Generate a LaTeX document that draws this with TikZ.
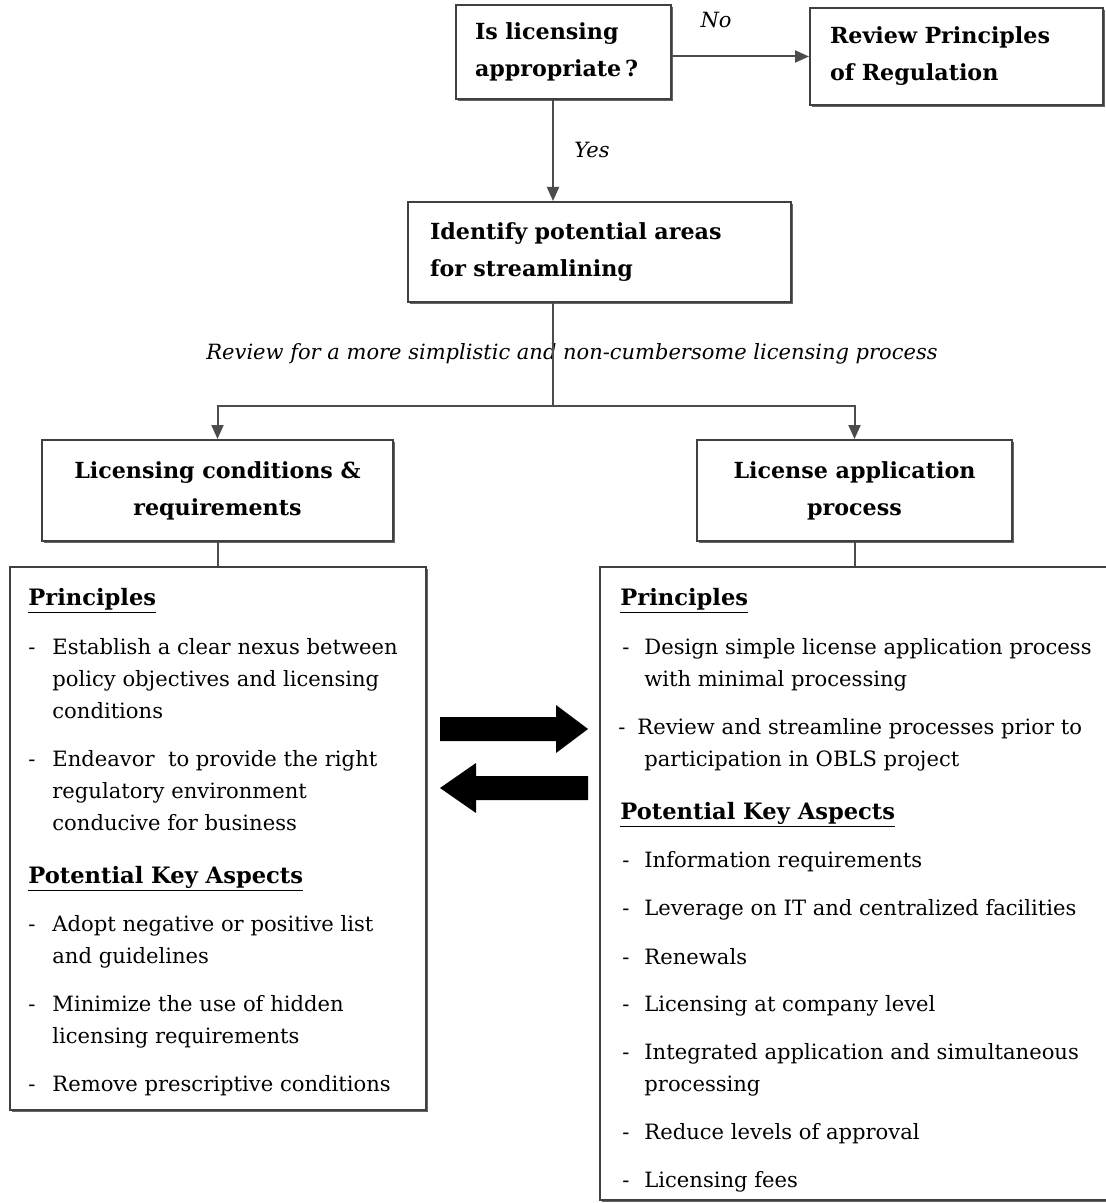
\documentclass[tikz,border=0pt]{standalone}
\usepackage{fontspec}
\setmainfont{DejaVu Serif}
\usetikzlibrary{arrows.meta,shadows}
\begin{document}
\begin{tikzpicture}[x=0.5pt,y=-0.5pt]
\tikzset{
 box/.style={draw=black!75, line width=1pt, fill=white, inner sep=0pt,
   drop shadow={shadow xshift=0.9pt, shadow yshift=-0.9pt, fill=black!60, opacity=1}},
 ttl/.style={font=\fontsize{11.1}{18.5}\selectfont\bfseries},
 conn/.style={draw=black!70, line width=1pt},
 arr/.style={conn, -{Triangle[length=7pt,width=6pt]}},
 txt/.style={anchor=base west, inner sep=0pt, font=\fontsize{10.55}{16}\selectfont},
 hd/.style={anchor=base west, inner sep=0pt, font=\fontsize{11.3}{16}\selectfont\bfseries},
 lbl/.style={inner sep=0pt, font=\fontsize{10.5}{12}\selectfont\itshape},
 blk/.style={fill=black}
}
\fill[white] (0,0) rectangle (1106,1203);
\useasboundingbox (0,0) rectangle (1106,1203);

% top boxes
\node[box, ttl, minimum width=107.5pt, minimum height=47pt, text width=88.5pt, align=left] (b1) at (563.5,52) {Is licensing\\appropriate\,?};
\node[box, ttl, minimum width=146.5pt, minimum height=48.5pt, text width=126.5pt, align=left] (b2) at (956.5,56.5) {Review Principles\\of Regulation};
\node[box, ttl, minimum width=191.5pt, minimum height=50pt, text width=169.5pt, align=left] (b3) at (599.5,252) {Identify potential areas\\for streamlining};
\node[box, ttl, minimum width=175.5pt, minimum height=50.5pt, align=center] (b4) at (217.5,490.5) {Licensing conditions \&\\requirements};
\node[box, ttl, minimum width=157.5pt, minimum height=50.5pt, align=center] (b5) at (854.5,490.5) {License application\\process};

% big boxes
\node[box, minimum width=208pt, minimum height=271.5pt] (bl) at (218,838.5) {};
\node[box, minimum width=255pt, minimum height=316.5pt] (br) at (855,883.5) {};

% labels
\node[lbl] (no) at (716,20) {No};
\node[lbl] (yes) at (592,150) {Yes};
\node[lbl] (rev) at (572,354) {Review for a more simplistic and non-cumbersome licensing process};

% connectors
\coordinate (yx) at (553,0);
\coordinate (sp) at (553,406);
\draw[arr] (b1.east |- b2.west) -- (b2.west);
\draw[arr] (b1.south -| yx) -- (b3.north -| yx);
\draw[conn] (b3.south -| sp) -- (sp);
\draw[arr] (sp) -| (b4.north);
\draw[arr] (sp) -| (b5.north);
\draw[conn] (b4.south) -- (b4.south |- bl.north);
\draw[conn] (b5.south) -- (b5.south |- br.north);

% block arrows
\fill[blk] (440,717) -- (556,717) -- (556,705) -- (588,729) -- (556,753) -- (556,741) -- (440,741) -- cycle;
\fill[blk] (588,776) -- (476,776) -- (476,763) -- (440,788) -- (476,813) -- (476,800) -- (588,800) -- cycle;

% left box text
\node[hd] (lh1) at (28,605) {\underline{Principles}};
\node[txt] (l1d) at (28,654) {-};
\node[txt] (l1a) at (52,654) {Establish a clear nexus between};
\node[txt] (l1b) at (52,686) {policy objectives and licensing};
\node[txt] (l1c) at (52,718) {conditions};
\node[txt] (l2d) at (28,766) {-};
\node[txt] (l2a) at (52,766) {Endeavor\ \ to provide the right};
\node[txt] (l2b) at (52,798) {regulatory environment};
\node[txt] (l2c) at (52,830) {conducive for business};
\node[hd] (lh2) at (28,883) {\underline{Potential Key Aspects}};
\node[txt] (l3d) at (28,931) {-};
\node[txt] (l3a) at (52,931) {Adopt negative or positive list};
\node[txt] (l3b) at (52,963) {and guidelines};
\node[txt] (l4d) at (28,1011) {-};
\node[txt] (l4a) at (52,1011) {Minimize the use of hidden};
\node[txt] (l4b) at (52,1043) {licensing requirements};
\node[txt] (l5d) at (28,1091) {-};
\node[txt] (l5a) at (52,1091) {Remove prescriptive conditions};

% right box text
\node[hd] (rh1) at (620,605) {\underline{Principles}};
\node[txt] (r1d) at (622,654) {-};
\node[txt] (r1a) at (644,654) {Design simple license application process};
\node[txt] (r1b) at (644,686) {with minimal processing};
\node[txt] (r2d) at (618,734) {-};
\node[txt] (r2a) at (637,734) {Review and streamline processes prior to};
\node[txt] (r2b) at (644,766) {participation in OBLS project};
\node[hd] (rh2) at (620,819) {\underline{Potential Key Aspects}};
\node[txt] (r3d) at (622,867) {-};
\node[txt] (r3a) at (644,867) {Information requirements};
\node[txt] (r4d) at (622,915) {-};
\node[txt] (r4a) at (644,915) {Leverage on IT and centralized facilities};
\node[txt] (r5d) at (622,964) {-};
\node[txt] (r5a) at (644,964) {Renewals};
\node[txt] (r6d) at (622,1011) {-};
\node[txt] (r6a) at (644,1011) {Licensing at company level};
\node[txt] (r7d) at (622,1059) {-};
\node[txt] (r7a) at (644,1059) {Integrated application and simultaneous};
\node[txt] (r7b) at (644,1091) {processing};
\node[txt] (r8d) at (622,1139) {-};
\node[txt] (r8a) at (644,1139) {Reduce levels of approval};
\node[txt] (r9d) at (622,1187) {-};
\node[txt] (r9a) at (644,1187) {Licensing fees};
\end{tikzpicture}
\end{document}
